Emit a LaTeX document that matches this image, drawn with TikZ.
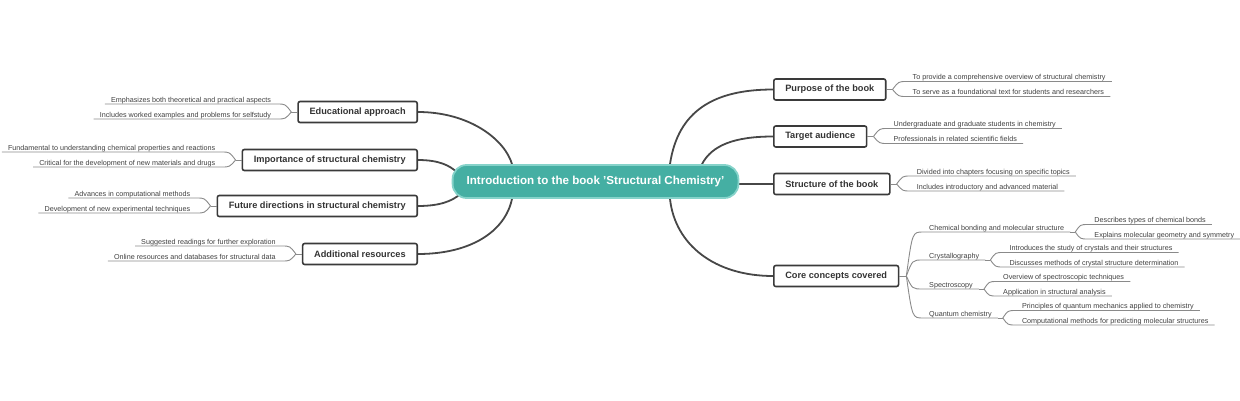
\documentclass[tikz,border=0pt]{standalone}
\usepackage{fontspec}
\setmainfont{Liberation Sans}
\usetikzlibrary{calc}
\pgfdeclarelayer{bg}
\pgfsetlayers{bg,main}
\definecolor{tealfill}{HTML}{45AFA3}
\definecolor{tealedge}{HTML}{86D3CA}
\definecolor{cline}{HTML}{474747}
\definecolor{boxline}{HTML}{3A3A3A}
\definecolor{lline}{HTML}{8A8A8A}
\definecolor{txt}{HTML}{333333}
\definecolor{ltxt}{HTML}{3F3F3F}

\newcommand\RLeaves[4]{%
  \coordinate (#2t) at ([xshift=6pt]#1.east);
  \node[leaf,anchor=south west] (#2a) at ([xshift=20pt,yshift=8pt]#1.east) {#3};
  \node[leaf,anchor=south west] (#2b) at ([xshift=20pt,yshift=-7pt]#1.east) {#4};
  \draw[uline] (#1.east) -- (#2t);
  \draw[uline] (#2t) .. controls ($(#2t |- #2a.south west)+(6,0)$) .. (#2a.south west) -- (#2a.south east);
  \draw[uline] (#2t) .. controls ($(#2t |- #2b.south west)+(6,0)$) .. (#2b.south west) -- (#2b.south east);
}
\newcommand\LLeaves[4]{%
  \coordinate (#2t) at ([xshift=-6pt]#1.west);
  \node[leaf,anchor=south east] (#2a) at ([xshift=-20pt,yshift=8pt]#1.west) {#3};
  \node[leaf,anchor=south east] (#2b) at ([xshift=-20pt,yshift=-7pt]#1.west) {#4};
  \draw[uline] (#1.west) -- (#2t);
  \draw[uline] (#2t) .. controls ($(#2t |- #2a.south east)+(-6,0)$) .. (#2a.south east) -- (#2a.south west);
  \draw[uline] (#2t) .. controls ($(#2t |- #2b.south east)+(-6,0)$) .. (#2b.south east) -- (#2b.south west);
}
\newcommand\SLeaves[4]{%
  \coordinate (#2t) at ([xshift=5pt]#1.south east);
  \node[leaf,anchor=south west] (#2a) at ([xshift=18pt,yshift=7.5pt]#1.south east) {#3};
  \node[leaf,anchor=south west] (#2b) at ([xshift=18pt,yshift=-7pt]#1.south east) {#4};
  \draw[uline] (#1.south east) -- (#2t);
  \draw[uline] (#2t) .. controls ($(#2t |- #2a.south west)+(5,0)$) .. (#2a.south west) -- (#2a.south east);
  \draw[uline] (#2t) .. controls ($(#2t |- #2b.south west)+(5,0)$) .. (#2b.south west) -- (#2b.south east);
}

\begin{document}
\begin{tikzpicture}[x=1pt,y=-1pt,
  conn/.style={draw=cline, line width=1.8pt},
  central/.style={fill=tealfill, draw=tealedge, line width=1.8pt, rounded corners=14pt,
    minimum height=33pt, inner xsep=14pt, inner ysep=0pt, text=white,
    font=\bfseries\fontsize{11.6}{13}\selectfont},
  topic/.style={draw=boxline, line width=1.6pt, fill=white, rounded corners=2pt,
    font=\bfseries\fontsize{9.2}{11}\selectfont, text=txt, inner xsep=11.5pt,
    inner ysep=0pt, minimum height=21pt},
  leaf/.style={font=\fontsize{7.2}{8}\selectfont, text=ltxt, inner xsep=6pt, inner ysep=1pt,
    text height=5.2pt, text depth=0.6pt},
  uline/.style={draw=lline, line width=0.9pt},
]
\useasboundingbox (0,0) rectangle (1240,400);

% central
\node[central] (c) at (595.5,181.5) {Introduction to the book 'Structural Chemistry'};

% right topics
\node[topic, anchor=west] (P) at (773,89.5) {Purpose of the book};
\node[topic, anchor=west] (T) at (773,136.5) {Target audience};
\node[topic, anchor=west] (S) at (773,184) {Structure of the book};
\node[topic, anchor=west] (K) at (773,276) {Core concepts covered};

% left topics
\node[topic, anchor=east] (E) at (418,112) {Educational approach};
\node[topic, anchor=east] (I) at (418,160) {Importance of structural chemistry};
\node[topic, anchor=east] (F) at (418,206) {Future directions in structural chemistry};
\node[topic, anchor=east] (A) at (418,254) {Additional resources};

% main connectors
\begin{pgfonlayer}{bg}
\draw[conn] ([xshift=74.5pt]c.north) .. controls (678,110) and (715,89.5) .. (P.west);
\draw[conn] ([xshift=106.5pt]c.north) .. controls (712,145) and (735,136.5) .. (T.west);
\draw[conn] (c.east |- S.west) -- (S.west);
\draw[conn] ([xshift=74.5pt]c.south) .. controls (675,245) and (715,276) .. (K.west);
\draw[conn] (E.east) .. controls (470,112) and (505,140) .. ([xshift=-83.5pt]c.north);
\draw[conn] (I.east) .. controls (440,160) and (450,166) .. ([xshift=5pt,yshift=9.5pt]c.west);
\draw[conn] (F.east) .. controls (440,206) and (452,201) .. ([xshift=8pt,yshift=-13pt]c.west);
\draw[conn] (A.east) .. controls (470,254) and (505,232) .. ([xshift=-83.5pt]c.south);
\end{pgfonlayer}

% leaves
\RLeaves{P}{Pl}{To provide a comprehensive overview of structural chemistry}{To serve as a foundational text for students and researchers}
\RLeaves{T}{Tl}{Undergraduate and graduate students in chemistry}{Professionals in related scientific fields}
\RLeaves{S}{Sl}{Divided into chapters focusing on specific topics}{Includes introductory and advanced material}
\LLeaves{E}{El}{Emphasizes both theoretical and practical aspects}{Includes worked examples and problems for selfstudy}
\LLeaves{I}{Il}{Fundamental to understanding chemical properties and reactions}{Critical for the development of new materials and drugs}
\LLeaves{F}{Fl}{Advances in computational methods}{Development of new experimental techniques}
\LLeaves{A}{Al}{Suggested readings for further exploration}{Online resources and databases for structural data}

% core concepts
\coordinate (Kt) at ([xshift=7pt]K.east);
\draw[uline] (K.east) -- (Kt);
\node[leaf, anchor=south west] (k1) at (923,232) {Chemical bonding and molecular structure};
\node[leaf, anchor=south west] (k2) at (923,260) {Crystallography};
\node[leaf, anchor=south west] (k3) at (923,289) {Spectroscopy};
\node[leaf, anchor=south west] (k4) at (923,318) {Quantum chemistry};
\foreach \n in {k1,k2,k3,k4}{
  \draw[uline] (Kt) .. controls ($(Kt |- \n.south west)+(6,0)$) .. (\n.south west) -- (\n.south east);
}
\SLeaves{k1}{Ka}{Describes types of chemical bonds}{Explains molecular geometry and symmetry}
\SLeaves{k2}{Kb}{Introduces the study of crystals and their structures}{Discusses methods of crystal structure determination}
\SLeaves{k3}{Kc}{Overview of spectroscopic techniques}{Application in structural analysis}
\SLeaves{k4}{Kd}{Principles of quantum mechanics applied to chemistry}{Computational methods for predicting molecular structures}
\end{tikzpicture}
\end{document}
